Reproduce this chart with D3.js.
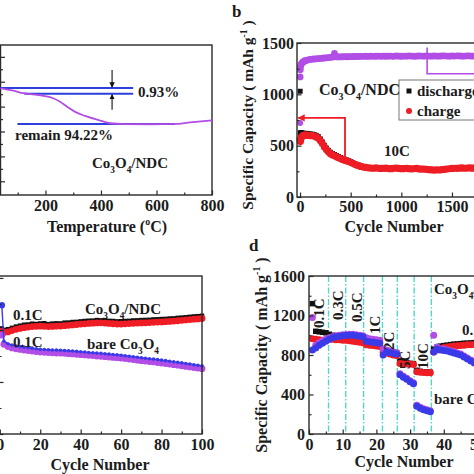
<!DOCTYPE html>
<html><head><meta charset="utf-8">
<script src="https://cdn.jsdelivr.net/npm/d3@7"></script>
<style>
body{margin:0;background:#fff;}
svg{display:block;}
text{font-family:"Liberation Serif","Times New Roman",serif;font-weight:bold;fill:#1b1b1b;}
</style></head><body>
<svg id="fig" width="474" height="474"></svg>
<script>
// ---------------- DATA ----------------
// Panel a: TGA
const tgaTemp   = [38, 81, 121, 182, 228, 254, 279, 307, 343, 397, 433, 487, 577, 667, 721, 800];
const tgaWeight = [99.95, 99.6, 99.15, 98.8, 98.35, 97.75, 96.95, 96.15, 95.5, 94.75, 94.33, 94.19, 94.17, 94.22, 94.46, 94.78];
const tgaRefWeight = [100, 99.07, 94.22];
const tgaRefStart  = [38, 124, 99];
const tgaRefEnd    = [516, 516, 667];
const tgaArrowTemp = 440;

// Panel b: long cycling at 10C
const bCycles = [1,3,5,10,20,30,40,50,60,80,100,
  120,140,160,180,200,220,240,260,280,300,320,340,360,380,400,420,440,460,480,500,520,540,560,580,600,
  625,650,675,700,725,750,775,800,825,850,875,900,925,950,975,1000,1025,1050,1075,1100,1125,1150,1175,1200,
  1225,1250,1275,1300,1325,1350,1375,1400,1425,1450,1475,1500,1525,1550,1575,1600,1625,1650,1675,1700,1725];
const bCharge = [560,540,555,575,590,598,602,600,604,600,598,
  597,593,585,572,550,520,488,462,440,422,410,402,393,382,374,366,358,352,346,338,328,318,310,304,298,
  292,288,284,282,280,283,279,278,280,281,277,276,279,282,278,276,277,280,276,274,275,278,273,271,
  272,270,266,264,262,265,263,267,270,272,275,278,280,279,281,283,280,282,284,281,283];
const bDischargeCycles = [1,3,5,10,20,30,40,50,60,80,100,
  120,140,160,180,200,220,240,260,280,300,320,340,360,380,400,420,440,460,480,500,520,540,560,580,600];
const bDischarge = [1030,620,625,628,625,618,620,618,620,616,614,
  612,608,600,588,566,536,503,476,454,436,423,414,404,393,385,376,368,361,355,346,335,325,317,310,303];
const bEfficiency = [1170,1240,1270,1292,1305,1315,1322,1327,1330,1336,1340,
  1342,1344,1346,1348,1350,1352,1354,1356,1358,1360,1362,1398,1366,1364,1365,1366,1367,1366,1368,1367,1368,1369,1368,1370,1369,
  1370,1371,1369,1372,1370,1371,1373,1370,1372,1371,1373,1372,1370,1374,1372,1371,1373,1372,1374,1373,1371,1372,1374,1373,
  1372,1375,1373,1372,1374,1373,1372,1374,1375,1373,1372,1374,1373,1375,1374,1372,1373,1375,1374,1373,1372];
const bEffFirst = [1, 720];

// Panel c: 0.1C cycling
const cCycles = [1,2,4,6,8,10,12,14,16,18,20,22,24,26,28,30,32,34,36,38,40,42,44,46,48,50,
  52,54,56,58,60,62,64,66,68,70,72,74,76,78,80,82,84,86,88,90,92,94,96,98,100];
const cNdcCharge = [790,780,785,795,805,812,818,822,826,828,829,828,826,827,829,830,833,836,839,842,845,847,850,852,854,855,
  853,850,848,846,845,847,849,851,853,854,855,857,859,861,862,864,866,868,871,874,877,880,883,885,888];
const cNdcDischarge = [812,800,806,816,826,833,840,842,848,846,850,852,845,849,851,850,856,857,861,862,866,869,871,872,876,874,
  875,870,869,866,867,869,870,873,874,876,877,878,881,882,884,885,888,889,893,895,898,901,904,906,909];
const cBareDischarge = [760,690,672,662,655,650,646,642,638,634,630,628,626,624,623,622,620,618,616,613,610,608,605,603,600,598,
  595,592,589,587,584,580,576,572,568,564,561,557,554,550,546,542,538,533,529,525,520,516,511,507,502];
const cBareCharge = [990,715,694,684,677,672,668,664,660,656,652,650,648,646,645,644,642,640,638,635,632,630,627,625,622,620,
  617,614,611,609,606,602,598,594,590,586,583,579,576,572,568,564,560,555,551,547,542,538,533,529,524];

// Panel d: rate capability
const dCycles = [1,2,3,4,5,6,7,8,9,10,11,12,13,14,15,16,17,18,19,20,21,22,23,24,25,26,27,28,29,30,31,32,33,34,35,36,
  37,38,39,40,41,42,43,44,45,46,47,48,49,50];
const dNdcDischarge = [1320,1040,1035,1030,1025,1010,1000,995,990,985,975,965,960,955,950,945,925,915,910,905,900,
  860,850,840,830,825,740,725,720,715,712,645,635,630,628,625,
  860,880,890,895,900,905,910,912,915,918,920,922,925,925];
const dNdcCharge = [965,960,955,950,950,960,960,955,955,950,950,945,940,935,930,925,905,900,895,890,885,
  830,820,810,800,795,715,712,710,708,705,630,625,622,620,620,
  830,850,865,875,880,885,890,893,896,900,903,905,907,910];
const dBareDischarge = [1180,900,925,945,960,975,985,995,1000,1005,1005,1010,1010,1005,1000,995,975,965,960,955,950,
  860,850,840,830,820,610,585,565,540,520,290,270,255,245,235,
  1000,880,860,860,850,840,835,820,810,790,770,750,730,710];
const dBareCharge = [850,870,900,920,940,960,975,985,990,995,1000,1000,1000,995,990,985,940,935,930,925,920,
  800,830,825,815,810,600,575,555,530,510,280,260,245,235,225,
  830,860,850,845,840,830,820,810,800,780,760,740,720,700];
const dRateBounds = [5.8, 10.9, 16.2, 21.8, 26.2, 31.2, 36.3];
const dRateLabels = ["0.1C","0.3C","0.5C","1C","2C","5C","10C"];
const dRateLabelCycle = [4.45, 10.1, 15.7, 21.1, 25.2, 30.0, 35.3];
const dRateLabelCap   = [1073, 1154, 1134, 1012, 850, 658, 658];

// ---------------- HELPERS ----------------
const svg = d3.select('#fig');
svg.append('rect').attr('width',474).attr('height',474).attr('fill','#fff');
const INK = '#2a2a2a';
const RED = '#ee1c24', BLACK = '#111', PURPLE = '#b24de6', BLUE = '#3a3ae8', TGA_BLUE = '#2f3fdc';

function rich(t, parts, fs){
  let shift = 0;
  parts.forEach(p=>{
    const s = Array.isArray(p) ? p[0] : p;
    const type = Array.isArray(p) ? p[1] : null;
    const target = type==='sub' ? fs*0.32 : type==='sup' ? -fs*0.42 : 0;
    t.append('tspan').attr('dy', target-shift).attr('font-size', type ? fs*0.62 : fs).text(s);
    shift = target;
  });
  return t;
}
const CO3O4 = ['Co',['3','sub'],'O',['4','sub']];

function styleTicks(){ svg.selectAll('.tick line').attr('stroke',INK).attr('stroke-width',1.2); }
function bottomAxis(scale, y, major, minor, pad){
  const gm = svg.append('g').attr('transform',`translate(0,${y})`)
    .call(d3.axisBottom(scale).tickValues(minor).tickSize(-2.5).tickFormat(''));
  gm.select('.domain').remove();
  const g = svg.append('g').attr('transform',`translate(0,${y})`)
    .call(d3.axisBottom(scale).tickValues(major).tickSize(-4.5).tickPadding(pad).tickFormat(d3.format('d')));
  g.select('.domain').remove();
  g.attr('font-size',16);
  styleTicks();
}
function leftAxis(scale, x, major, minor, pad, showLabels){
  const gm = svg.append('g').attr('transform',`translate(${x},0)`)
    .call(d3.axisLeft(scale).tickValues(minor).tickSize(-2.5).tickFormat(''));
  gm.select('.domain').remove();
  const g = svg.append('g').attr('transform',`translate(${x},0)`)
    .call(d3.axisLeft(scale).tickValues(major).tickSize(-4.5).tickPadding(pad)
      .tickFormat(showLabels ? d3.format('d') : ''));
  g.select('.domain').remove();
  g.attr('font-size',16);
  styleTicks();
}
function frame(x0,y0,x1,y1){
  svg.append('rect').attr('x',x0).attr('y',y0).attr('width',x1-x0).attr('height',y1-y0)
    .attr('fill','none').attr('stroke',INK).attr('stroke-width',1.4);
}
function dots(xs, ys, sx, sy, color, r){
  svg.append('g').selectAll('circle').data(xs).join('circle')
    .attr('cx',(d)=>sx(d)).attr('cy',(d,i)=>sy(ys[i])).attr('r',r).attr('fill',color);
}
function squares(xs, ys, sx, sy, color, size){
  svg.append('g').selectAll('path').data(xs).join('path')
    .attr('d', d3.symbol(d3.symbolSquare, size*size))
    .attr('transform',(d,i)=>`translate(${sx(d)},${sy(ys[i])})`).attr('fill',color);
}
const defs = svg.append('defs');
function marker(id, color, w, h){
  defs.append('marker').attr('id',id).attr('viewBox','0 0 10 10').attr('refX',9).attr('refY',5)
    .attr('markerWidth',w).attr('markerHeight',h).attr('orient','auto-start-reverse')
    .append('path').attr('d','M0,0L10,5L0,10z').attr('fill',color);
}
marker('arrBlack', '#111', 5, 5);
marker('arrRed', RED, 4, 4);

// ---------------- PANEL A ----------------
{
  const x = d3.scaleLinear().domain([38,800]).range([0.5,212]);
  const y = d3.scaleLinear().domain([82.8,106.9]).range([195,45]);
  frame(0.5,45,212,195);
  bottomAxis(x,195,[200,400,600,800],[100,300,500,700],5);
  leftAxis(y,0.5,[85,89,93,97,101,105],[87,91,95,99,103],4,false);
  tgaRefWeight.forEach((w,i)=>{
    svg.append('line').attr('x1',x(tgaRefStart[i])).attr('x2',x(tgaRefEnd[i]))
      .attr('y1',y(w)).attr('y2',y(w)).attr('stroke',TGA_BLUE).attr('stroke-width',2);
  });
  svg.append('path').datum(tgaTemp)
    .attr('d', d3.line().x(d=>x(d)).y((d,i)=>y(tgaWeight[i])).curve(d3.curveMonotoneX))
    .attr('fill','none').attr('stroke',PURPLE).attr('stroke-width',1.8);
  svg.append('line').attr('x1',x(tgaArrowTemp)).attr('x2',x(tgaArrowTemp))
    .attr('y1',y(102.9)).attr('y2',y(100)-0.8).attr('stroke','#111').attr('stroke-width',1.1).attr('marker-end','url(#arrBlack)');
  svg.append('line').attr('x1',x(tgaArrowTemp)).attr('x2',x(tgaArrowTemp))
    .attr('y1',y(96.5)).attr('y2',y(99.07)+0.8).attr('stroke','#111').attr('stroke-width',1.1).attr('marker-end','url(#arrBlack)');
  svg.append('text').attr('x',138).attr('y',97).attr('font-size',15).text('0.93%');
  svg.append('text').attr('x',15).attr('y',140).attr('font-size',15).text('remain 94.22%');
  rich(svg.append('text').attr('x',92).attr('y',168), [...CO3O4,'/NDC'], 15);
  rich(svg.append('text').attr('x',107).attr('y',232).attr('text-anchor','middle'), ['Temperature (',['o','sup'],'C)'], 16);
}

// ---------------- PANEL B ----------------
{
  const x = d3.scaleLinear().domain([-30,2000]).range([297,502.6]);
  const y = d3.scaleLinear().domain([0,1500]).range([197,43]);
  svg.append('text').attr('x',232).attr('y',17).attr('font-size',17).text('b');
  svg.append('polyline').attr('points',`${x(1255)},${y(1455)} ${x(1255)},${y(1200)} ${480},${y(1200)}`)
    .attr('fill','none').attr('stroke',PURPLE).attr('stroke-width',1.6);
  squares(bDischargeCycles, bDischarge, x, y, BLACK, 5);
  dots(bCycles, bCharge, x, y, RED, 3.6);
  dots(bCycles, bEfficiency, x, y, PURPLE, 3.4);
  dots([bEffFirst[0]], [bEffFirst[1]], x, y, PURPLE, 3);
  svg.append('polyline').attr('points',`${x(444)},${y(390)} ${x(444)},${y(770)} ${x(-18)},${y(770)}`)
    .attr('fill','none').attr('stroke',RED).attr('stroke-width',1.8).attr('marker-end','url(#arrRed)');
  frame(297,43,520,197);
  bottomAxis(x,197,[0,500,1000,1500],[250,750,1250],4);
  leftAxis(y,297,[0,500,1000,1500],[250,750,1250],3,true);
  svg.append('rect').attr('x',399).attr('y',80).attr('width',100).attr('height',40)
    .attr('fill','#fff').attr('stroke','#777').attr('stroke-width',1);
  svg.append('rect').attr('x',406.5).attr('y',88.5).attr('width',5).attr('height',5).attr('fill',BLACK);
  svg.append('circle').attr('cx',409).attr('cy',111).attr('r',3).attr('fill',RED);
  svg.append('text').attr('x',417).attr('y',96).attr('font-size',15).text('discharge');
  svg.append('text').attr('x',417).attr('y',116).attr('font-size',15).text('charge');
  rich(svg.append('text').attr('x',319).attr('y',95), [...CO3O4,'/NDC'], 16);
  svg.append('text').attr('x',384).attr('y',156).attr('font-size',15).text('10C');
  svg.append('text').attr('x',394).attr('y',232).attr('text-anchor','middle').attr('font-size',16).text('Cycle Number');
  rich(svg.append('text').attr('transform','translate(253,115) rotate(-90)').attr('text-anchor','middle'),
    ['Specific Capacity ( mAh g',['-1','sup'],' )'], 15.5);
}

// ---------------- PANEL C ----------------
{
  const x = d3.scaleLinear().domain([-0.4,100]).range([-1,202]);
  const y = d3.scaleLinear().domain([0,1215]).range([434,276]);
  squares(cCycles, cNdcDischarge, x, y, BLACK, 4.5);
  dots(cCycles, cNdcCharge, x, y, RED, 3.4);
  dots(cCycles, cBareDischarge, x, y, PURPLE, 3.4);
  svg.append('path').datum(cCycles)
    .attr('d', d3.line().x(d=>x(d)).y((d,i)=>y(cBareCharge[i])))
    .attr('fill','none').attr('stroke',BLUE).attr('stroke-width',1.4);
  dots(cCycles, cBareCharge, x, y, BLUE, 1.8);
  dots([cCycles[0]], [cBareCharge[0]], x, y, BLUE, 3.2);
  frame(-1,276,202,434);
  bottomAxis(x,434,[0,20,40,60,80,100],[10,30,50,70,90],5);
  leftAxis(y,-1,[0,400,800,1200],[200,600,1000],4,false);
  svg.append('text').attr('x',13).attr('y',320).attr('font-size',15).text('0.1C');
  svg.append('text').attr('x',13).attr('y',347).attr('font-size',15).text('0.1C');
  rich(svg.append('text').attr('x',85).attr('y',314), [...CO3O4,'/NDC'], 15);
  rich(svg.append('text').attr('x',87).attr('y',349), ['bare ',...CO3O4], 15);
  svg.append('text').attr('x',100).attr('y',470).attr('text-anchor','middle').attr('font-size',16).text('Cycle Number');
}

// ---------------- PANEL D ----------------
{
  const x = d3.scaleLinear().domain([0,60]).range([309,511.2]);
  const y = d3.scaleLinear().domain([0,1600]).range([434,276]);
  svg.append('text').attr('x',249).attr('y',251).attr('font-size',17).text('d');
  svg.append('g').selectAll('line').data(dRateBounds).join('line')
    .attr('x1',d=>x(d)).attr('x2',d=>x(d)).attr('y1',y(1600)).attr('y2',y(0))
    .attr('stroke','#52d8c8').attr('stroke-width',1.4).attr('stroke-dasharray','6,2,1.5,2');
  squares(dCycles, dNdcDischarge, x, y, BLACK, 5.5);
  dots(dCycles, dNdcCharge, x, y, RED, 3.5);
  dots(dCycles, dBareDischarge, x, y, PURPLE, 3.5);
  dots(dCycles, dBareCharge, x, y, BLUE, 3.5);
  frame(309,276,520,434);
  bottomAxis(x,434,[0,10,20,30,40,50],[5,15,25,35,45],5);
  leftAxis(y,309,[0,400,800,1200,1600],[200,600,1000,1400],4,true);
  dRateLabels.forEach((l,i)=>{
    svg.append('text').attr('transform',`translate(${x(dRateLabelCycle[i])},${y(dRateLabelCap[i])}) rotate(-90)`)
      .attr('font-size',15).text(l);
  });
  rich(svg.append('text').attr('x',434).attr('y',294), [...CO3O4,'/NDC'], 15);
  svg.append('text').attr('x',462).attr('y',335).attr('font-size',15).text('0.1C');
  rich(svg.append('text').attr('x',434).attr('y',404), ['bare ',...CO3O4], 15);
  svg.append('text').attr('x',404).attr('y',467).attr('text-anchor','middle').attr('font-size',16).text('Cycle Number');
  rich(svg.append('text').attr('transform','translate(267,355) rotate(-90)').attr('text-anchor','middle'),
    ['Specific Capacity ( mAh g',['-1','sup'],' )'], 16);
}
</script>
</body></html>
